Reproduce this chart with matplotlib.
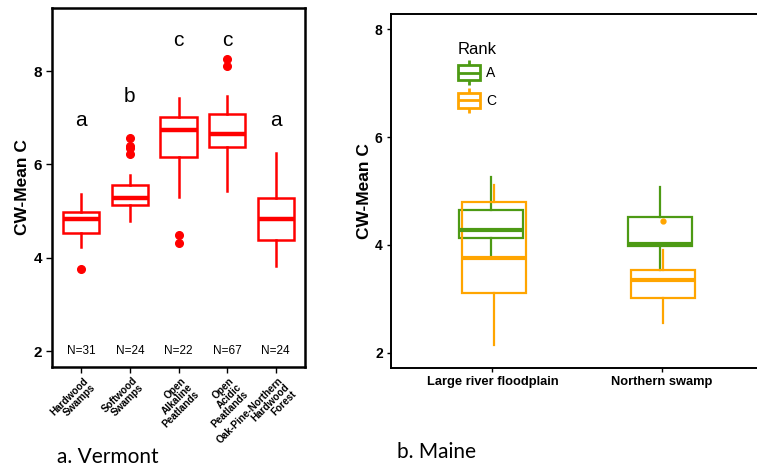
import matplotlib
matplotlib.use("Agg")
import matplotlib.pyplot as plt
from matplotlib.patches import Rectangle
from matplotlib.lines import Line2D
from matplotlib.legend_handler import HandlerBase
import matplotlib.transforms as mtransforms

plt.rcParams["font.family"] = ["Liberation Sans", "DejaVu Sans"]

# a. Vermont -- box statistics
vt_sites = ["Hardwood\nSwamps", "Softwood\nSwamps", "Open\nAlkaline\nPeatlands",
            "Open\nAcidic\nPeatlands", "Oak-Pine-Northern\nHardwood\nForest"]
vt_whislo = [4.22, 4.78, 5.31, 5.44, 3.82]
vt_q1 = [4.54, 5.13, 6.16, 6.37, 4.39]
vt_med = [4.83, 5.29, 6.73, 6.66, 4.84]
vt_q3 = [4.98, 5.55, 7.01, 7.07, 5.29]
vt_whishi = [5.36, 5.78, 7.43, 7.47, 6.24]
vt_fliers = [[3.75], [6.57, 6.40, 6.35, 6.22], [4.48, 4.31], [8.26, 8.11], []]
vt_n = [31, 24, 22, 67, 24]
vt_letters = ["a", "b", "c", "c", "a"]
vt_letter_y = [6.95, 7.46, 8.65, 8.65, 6.95]

# b. Maine, by rank
me_sites = ["Large river floodplain", "Northern swamp"]
me_ranks = ["A", "C"]
me_whislo = {"A": [3.78, 3.53], "C": [2.14, 2.55]}
me_q1 = {"A": [4.12, 3.98], "C": [3.11, 3.01]}
me_med = {"A": [4.28, 4.01], "C": [3.75, 3.36]}
me_q3 = {"A": [4.65, 4.51], "C": [4.79, 3.53]}
me_whishi = {"A": [5.26, 5.07], "C": [5.11, 3.91]}
me_fliers = {"A": [[], []], "C": [[], [4.44]]}

RANK_COLORS = {"A": "#4d9a14", "C": "#ffa500"}
RANK_SHIFT = {"A": -0.01, "C": 0.01}


def stats(lo, q1, med, q3, hi, fl):
    return [dict(whislo=a, q1=b, med=c, q3=d, whishi=e, fliers=f)
            for a, b, c, d, e, f in zip(lo, q1, med, q3, hi, fl)]


class BoxKey(HandlerBase):
    def create_artists(self, legend, orig_handle, xdescent, ydescent,
                       width, height, fontsize, trans):
        c = orig_handle.get_color()
        x0, y0 = -xdescent, -ydescent
        xm = x0 + width / 2
        kw = dict(color=c, lw=2.0, transform=trans, solid_capstyle="butt")
        box = Rectangle((x0, y0 + 0.2 * height), width, 0.6 * height,
                        fill=False, ec=c, lw=2.0, transform=trans)
        med = Line2D([x0, x0 + width], [y0 + 0.5 * height] * 2, **kw)
        w1 = Line2D([xm, xm], [y0 + 0.8 * height, y0 + height], **kw)
        w2 = Line2D([xm, xm], [y0, y0 + 0.2 * height], **kw)
        return [box, med, w1, w2]


fig = plt.figure(figsize=(7.57, 4.68), dpi=100)

# ---- left panel
ax1 = fig.add_axes([52 / 757, 101 / 468, 253 / 757, 359 / 468])
pos = list(range(1, len(vt_sites) + 1))
red = "#ff0000"
ax1.bxp(stats(vt_whislo, vt_q1, vt_med, vt_q3, vt_whishi, vt_fliers),
        positions=pos, widths=0.75, showcaps=False, patch_artist=True,
        boxprops=dict(facecolor="white", edgecolor=red, lw=1.8),
        medianprops=dict(color=red, lw=3.2, solid_capstyle="butt"),
        whiskerprops=dict(color=red, lw=1.8),
        flierprops=dict(marker="o", markerfacecolor=red, markeredgecolor=red,
                        markersize=5.5))
for x, n, let, ly in zip(pos, vt_n, vt_letters, vt_letter_y):
    ax1.text(x, 2.0, f"N={n}", ha="center", va="center", fontsize=8.5)
    ax1.text(x, ly, let, ha="center", va="center", fontsize=15)
ax1.set_xlim(0.4, len(vt_sites) + 0.6)
ax1.set_ylim(1.66, 9.35)
ax1.set_yticks([2, 4, 6, 8])
ax1.set_xticks(pos)
ax1.set_xticklabels([])
# rotated, multi-line site names placed just under the ticks
lab_tr = ax1.get_xaxis_transform() + mtransforms.ScaledTranslation(
    2 / 100, -8.5 / 100, fig.dpi_scale_trans)
for x, site in zip(pos, vt_sites):
    ax1.text(x, 0, site, transform=lab_tr, rotation=45, ha="right", va="top",
             rotation_mode="anchor", fontsize=7.2, fontweight="bold",
             linespacing=0.95, multialignment="right")
ax1.tick_params(axis="y", labelsize=11, length=4, width=1, pad=3)
ax1.tick_params(axis="x", length=4, width=1, pad=2)
for lab in ax1.get_yticklabels():
    lab.set_fontweight("bold")
ax1.set_ylabel("CW-Mean C", fontsize=12.5, fontweight="bold", labelpad=3)
for s in ax1.spines.values():
    s.set_linewidth(1.8)

# ---- right panel
ax2 = fig.add_axes([391 / 757, 100 / 468, 372 / 757, 354 / 468])
mpos = list(range(1, len(me_sites) + 1))
for r in me_ranks:
    c = RANK_COLORS[r]
    ax2.bxp(stats(me_whislo[r], me_q1[r], me_med[r], me_q3[r], me_whishi[r], me_fliers[r]),
            positions=[p + RANK_SHIFT[r] for p in mpos], widths=0.38,
            showcaps=False, patch_artist=True,
            boxprops=dict(facecolor="none", edgecolor=c, lw=1.6),
            medianprops=dict(color=c, lw=3.0, solid_capstyle="butt"),
            whiskerprops=dict(color=c, lw=1.6),
            flierprops=dict(marker="o", markerfacecolor=c, markeredgecolor=c,
                            markersize=3.5))
ax2.set_xlim(0.4, len(me_sites) + 0.6)
ax2.set_ylim(1.72, 8.28)
ax2.set_yticks([2, 4, 6, 8])
ax2.set_xticks(mpos)
ax2.set_xticklabels(me_sites, fontsize=9.3, fontweight="bold")
ax2.tick_params(axis="y", labelsize=10, length=3, width=1, pad=3)
ax2.tick_params(axis="x", length=3, width=1, pad=2.5)
for lab in ax2.get_yticklabels():
    lab.set_fontweight("bold")
ax2.set_ylabel("CW-Mean C", fontsize=12.5, fontweight="bold", labelpad=2)
for s in ax2.spines.values():
    s.set_linewidth(1.4)

handles = [Line2D([], [], color=RANK_COLORS[r], label=r) for r in me_ranks]
ax2.legend(handles=handles, title="Rank", loc="upper left",
           bbox_to_anchor=(0.18, 0.92), frameon=False, fontsize=10,
           title_fontsize=12, handler_map={Line2D: BoxKey()},
           handlelength=1.6, handleheight=2.4, handletextpad=0.45,
           labelspacing=0.2, borderpad=0, borderaxespad=0,
           alignment="left")

fig.text(57 / 757, 1 - 457 / 468, "a. Vermont", fontsize=15, family=["Lato", "DejaVu Sans"],
         ha="left", va="center")
fig.text(397 / 757, 1 - 452 / 468, "b. Maine", fontsize=15, family=["Lato", "DejaVu Sans"],
         ha="left", va="center")

fig.savefig("out.png", dpi=100)
